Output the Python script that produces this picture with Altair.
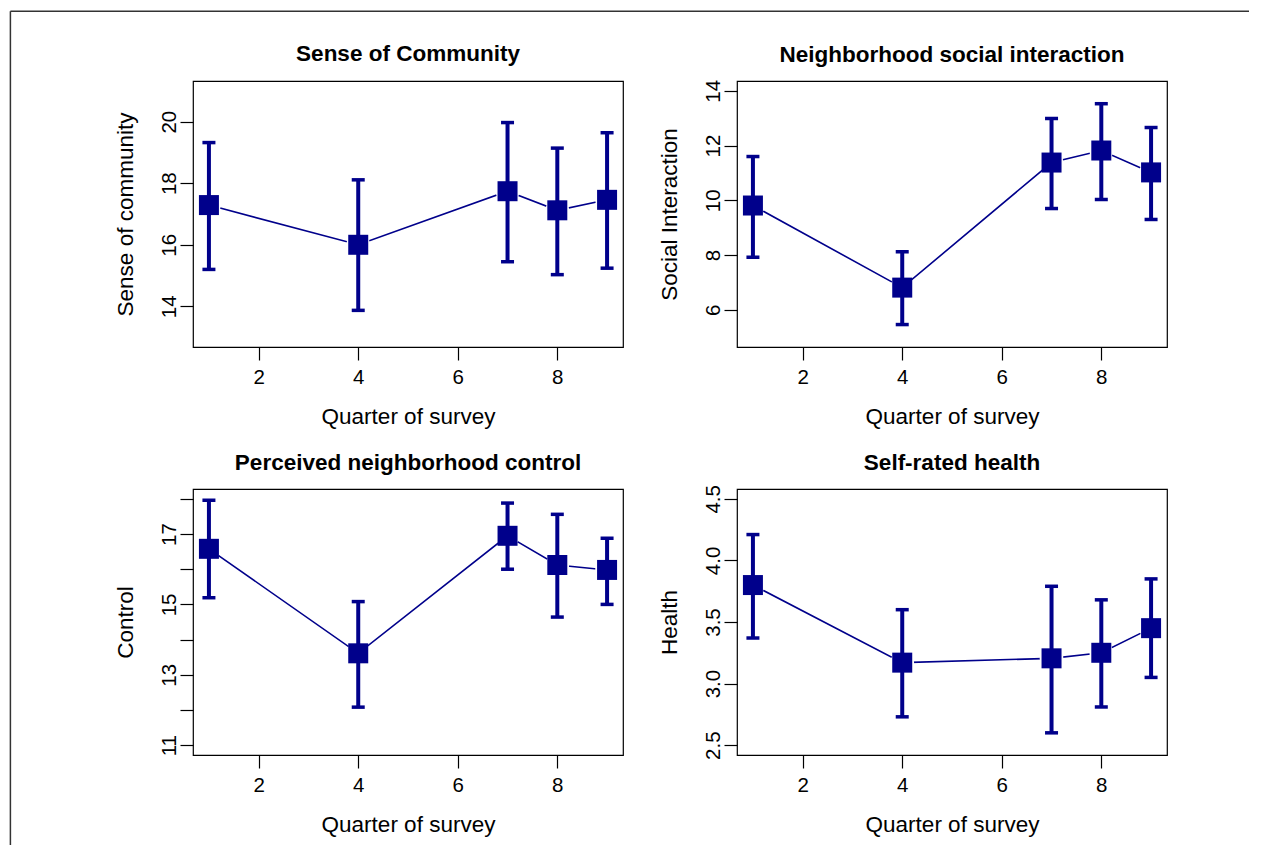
import altair as alt
import pandas as pd

# ---- data ----
quarters = [1, 4, 7, 8, 9]

community_mean = [17.29, 16.00, 17.74, 17.12, 17.46]
community_lo = [15.20, 13.87, 15.45, 15.03, 15.24]
community_hi = [19.32, 18.11, 19.97, 19.14, 19.64]

social_mean = [9.81, 6.81, 11.38, 11.82, 11.02]
social_lo = [7.92, 5.46, 9.70, 10.03, 9.30]
social_hi = [11.60, 8.12, 12.99, 13.53, 12.66]

control_mean = [16.58, 13.61, 16.95, 16.12, 15.98]
control_lo = [15.19, 12.08, 16.00, 14.64, 15.00]
control_hi = [17.96, 15.08, 17.88, 17.56, 16.88]

health_mean = [3.80, 3.17, 3.205, 3.25, 3.45]
health_lo = [3.37, 2.73, 2.60, 2.81, 3.05]
health_hi = [4.21, 3.60, 3.79, 3.68, 3.85]

x_ticks = [2, 4, 6, 8]

FONT = "Liberation Sans"
NAVY = "#00008B"
W, H = 430, 266
X_DOMAIN = [0.68, 9.32]


def panel(title, ytitle, mean, lo, hi, ydomain, yvalues, title_offset,
          label_expr=None, fmt=None, frame=False):
    df = pd.DataFrame({"quarter": quarters, "mean": mean, "lo": lo, "hi": hi})
    base = alt.Chart(df)

    xaxis = alt.Axis(
        values=x_ticks, format="d", grid=False, domain=False,
        tickSize=13, tickColor="black", tickWidth=1.2,
        labelFont=FONT, labelFontSize=20.5, labelColor="black",
        labelBaseline="alphabetic", labelPadding=23,
        labelFlush=False, labelOverlap=False,
        title="Quarter of survey", titleFont=FONT, titleFontSize=22.5,
        titleFontWeight="normal", titleColor="black",
        titleX=W / 2, titleY=76, titleBaseline="alphabetic", titleAlign="center",
    )
    yargs = dict(
        values=yvalues, grid=False, domain=False,
        tickSize=13, tickColor="black", tickWidth=1.2,
        labelFont=FONT, labelFontSize=20.5, labelColor="black",
        labelAngle=-90, labelAlign="center", labelBaseline="alphabetic",
        labelPadding=5, labelFlush=False, labelOverlap=False,
        title=ytitle, titleFont=FONT, titleFontSize=22.5,
        titleFontWeight="normal", titleColor="black",
        titleX=-61, titleY=H / 2, titleBaseline="alphabetic", titleAlign="center",
    )
    if label_expr:
        yargs["labelExpr"] = label_expr
    if fmt:
        yargs["format"] = fmt
    yaxis = alt.Axis(**yargs)

    xs = alt.Scale(domain=X_DOMAIN, nice=False, zero=False)
    ys = alt.Scale(domain=ydomain, nice=False, zero=False)
    X = alt.X("quarter:Q", scale=xs, axis=xaxis)

    line = base.mark_line(color=NAVY, strokeWidth=1.6).encode(
        x=X, y=alt.Y("mean:Q", scale=ys, axis=yaxis))
    halo = base.mark_circle(size=560, color="white", opacity=1).encode(
        x=X, y=alt.Y("mean:Q", scale=ys, axis=yaxis))
    bars = base.mark_rule(color=NAVY, strokeWidth=4).encode(
        x=X, y=alt.Y("lo:Q", scale=ys, axis=yaxis), y2="hi:Q")
    cap_lo = base.mark_tick(color=NAVY, orient="horizontal", size=13,
                            thickness=3.5, opacity=1).encode(
        x=X, y=alt.Y("lo:Q", scale=ys, axis=yaxis))
    cap_hi = base.mark_tick(color=NAVY, orient="horizontal", size=13,
                            thickness=3.5, opacity=1).encode(
        x=X, y=alt.Y("hi:Q", scale=ys, axis=yaxis))
    pts = base.mark_square(color=NAVY, size=400, opacity=1).encode(
        x=X, y=alt.Y("mean:Q", scale=ys, axis=yaxis))

    layers = [line, halo, bars, cap_lo, cap_hi, pts]
    if frame:
        fr = alt.Chart(alt.Data(values=[{}]))
        top = fr.mark_rule(color="#333333", strokeWidth=1.5).encode(
            x=alt.value(-182.6), x2=alt.value(1056), y=alt.value(-69.8))
        left = fr.mark_rule(color="#333333", strokeWidth=1.5).encode(
            x=alt.value(-182.6), y=alt.value(-69.8), y2=alt.value(764))
        layers = [top, left] + layers

    return alt.layer(*layers).properties(
        width=W, height=H,
        title=alt.TitleParams(
            text=title, font=FONT, fontSize=22.5, fontWeight="bold",
            color="black", anchor="middle", frame="group",
            baseline="alphabetic", offset=title_offset,
        ),
    )


p1 = panel("Sense of Community", "Sense of community",
           community_mean, community_lo, community_hi,
           [12.68, 21.32], [14, 16, 18, 20], title_offset=-73.5, frame=True)
p2 = panel("Neighborhood social interaction", "Social Interaction",
           social_mean, social_lo, social_hi,
           [4.64, 14.36], [6, 8, 10, 12, 14], title_offset=-5.0)
p3 = panel("Perceived neighborhood control", "Control",
           control_mean, control_lo, control_hi,
           [10.72, 18.28], [11, 12, 13, 14, 15, 16, 17, 18], title_offset=-3.2,
           label_expr="datum.value % 2 == 1 ? datum.label : ''")
p4 = panel("Self-rated health", "Health",
           health_mean, health_lo, health_hi,
           [2.42, 4.58], [2.5, 3.0, 3.5, 4.0, 4.5], title_offset=-7.4, fmt=".1f")

chart = alt.concat(
    p1, p2, p3, p4, columns=2,
    spacing={"row": 142, "column": 114}, bounds="flush",
).properties(
    padding={"left": 1, "top": 1, "right": 0, "bottom": 0},
    background="white",
).configure_view(stroke="black", strokeWidth=1.2)

chart.save("out.html", embed_options={"renderer": "svg", "actions": False})
